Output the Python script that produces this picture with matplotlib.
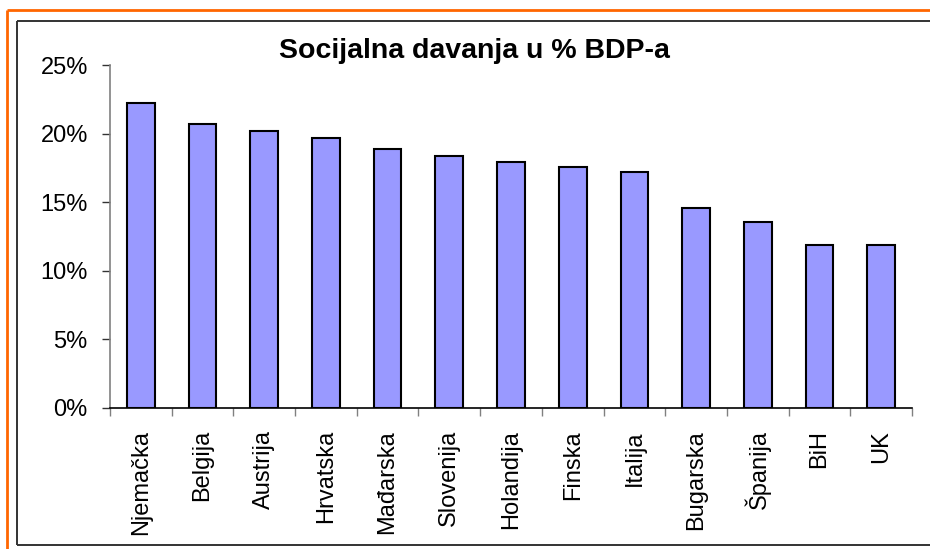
import numpy as np
import matplotlib
matplotlib.use("Agg")
import matplotlib.pyplot as plt
from matplotlib.lines import Line2D
from matplotlib.ticker import FuncFormatter, FixedLocator

# data (share of GDP, %)
countries = ['Njemačka', 'Belgija', 'Austrija', 'Hrvatska', 'Mađarska', 'Slovenija',
             'Holandija', 'Finska', 'Italija', 'Bugarska', 'Španija', 'BiH', 'UK']
values = [22.2, 20.7, 20.2, 19.65, 18.9, 18.35, 17.9, 17.6, 17.2, 14.55, 13.55, 11.9, 11.9]
y_ticks = [0, 5, 10, 15, 20, 25]
title = 'Socijalna davanja u % BDP-a'

plt.rcParams['font.family'] = ['Liberation Sans', 'DejaVu Sans']

W, H = 930, 549
fig = plt.figure(figsize=(W / 100, H / 100), dpi=100)

def px(x, y):
    return x / W, 1 - y / H

# outer frames (they run off the right/bottom edge of the picture)
def frame_line(p0, p1, color, lw):
    (x0, y0), (x1, y1) = px(*p0), px(*p1)
    fig.add_artist(Line2D([x0, x1], [y0, y1], transform=fig.transFigure,
                          color=color, lw=lw, solid_capstyle='butt'))

frame_line((6.5, 10), (6.5, 560), '#FF6600', 2.0)
frame_line((6.5, 10), (935, 10), '#FF6600', 2.0)
frame_line((17, 20.5), (17, 545), '#333333', 1.4)
frame_line((17, 20.5), (935, 20.5), '#333333', 1.4)
frame_line((17, 545), (935, 545), '#333333', 1.4)

left, right, top, bottom = 110, 912, 65, 408
ax = fig.add_axes([left / W, 1 - bottom / H, (right - left) / W, (bottom - top) / H])

x = np.arange(len(countries))
ax.bar(x, values, width=0.45, color='#9999FF', edgecolor='black', linewidth=1.5, zorder=3)

ax.set_xlim(-0.5, len(countries) - 0.5)
ax.set_ylim(0, 25)
ax.set_yticks(y_ticks)
ax.yaxis.set_major_formatter(FuncFormatter(lambda v, p: f'{v:.0f}%'))

ax.set_xticks(x)
ax.set_xticklabels(countries, rotation=90, fontsize=17)
ax.xaxis.set_minor_locator(FixedLocator(np.arange(-0.5, len(countries), 1.0)))
ax.tick_params(axis='x', which='major', length=0, pad=16)
ax.tick_params(axis='x', which='minor', length=6, width=1, color='#808080')
ax.tick_params(axis='y', length=6, width=1, color='#333333', pad=10, labelsize=17)

for s in ['top', 'right']:
    ax.spines[s].set_visible(False)
ax.spines['left'].set_color('#808080')
ax.spines['left'].set_linewidth(1.2)
ax.spines['bottom'].set_color('black')
ax.spines['bottom'].set_linewidth(1.2)

tx, ty = px(474, 51)
fig.text(tx, ty, title, fontsize=20.5, fontweight='bold', ha='center', va='center')

fig.savefig('out.png', dpi=100)
